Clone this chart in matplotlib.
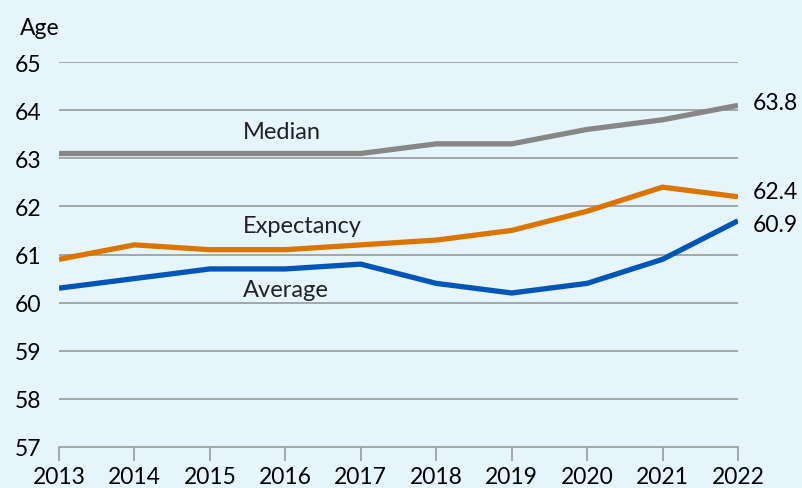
import matplotlib
matplotlib.use("Agg")
import matplotlib.pyplot as plt

plt.rcParams['font.family'] = ['Lato', 'DejaVu Sans']

years = [2013, 2014, 2015, 2016, 2017, 2018, 2019, 2020, 2021, 2022]
median = [63.1, 63.1, 63.1, 63.1, 63.1, 63.3, 63.3, 63.6, 63.8, 64.1]
expectancy = [60.9, 61.2, 61.1, 61.1, 61.2, 61.3, 61.5, 61.9, 62.4, 62.2]
average = [60.3, 60.5, 60.7, 60.7, 60.8, 60.4, 60.2, 60.4, 60.9, 61.7]
end_labels = ["63.8", "62.4", "60.9"]
yticks = [57, 58, 59, 60, 61, 62, 63, 64, 65]

bg = '#e6f5fc'
fig = plt.figure(figsize=(8.03, 4.89), dpi=100, facecolor=bg)
ax = fig.add_axes([0.0735, 0.084, 0.8455, 0.787])
ax.set_facecolor(bg)

for v in yticks[1:]:
    ax.axhline(v, color='#9a9a9a', lw=1.2, zorder=1)

ax.plot(years, median, color='#878787', lw=3.8, zorder=3, solid_capstyle='butt')
ax.plot(years, expectancy, color='#dc7400', lw=3.8, zorder=3, solid_capstyle='butt')
ax.plot(years, average, color='#0056b8', lw=3.8, zorder=3, solid_capstyle='butt')

ax.set_xlim(2013, 2022)
ax.set_ylim(57, 65)
ax.set_xticks(years)
ax.set_yticks(yticks)
ax.tick_params(axis='x', length=10, width=1.2, color='#9a9a9a', labelsize=16.5, pad=4)
ax.tick_params(axis='y', length=0, labelsize=16.5, pad=13)
for s in ['top', 'right', 'left']:
    ax.spines[s].set_visible(False)
ax.spines['bottom'].set_color('#9a9a9a')
ax.spines['bottom'].set_linewidth(1.2)

lbl = dict(fontsize=17, color='#222222', ha='left', va='center')
ax.text(2015.44, 63.55, "Median", **lbl)
ax.text(2015.44, 61.6, "Expectancy", **lbl)
ax.text(2015.44, 60.28, "Average", **lbl)

ax.text(2022.2, 64.17, end_labels[0], fontsize=16.5, va='center', clip_on=False)
ax.text(2022.2, 62.3, end_labels[1], fontsize=16.5, va='center', clip_on=False)
ax.text(2022.2, 61.62, end_labels[2], fontsize=16.5, va='center', clip_on=False)

fig.text(0.025, 0.942, "Age", fontsize=16.5, va='center')

fig.savefig("out.png", dpi=100, facecolor=bg)
